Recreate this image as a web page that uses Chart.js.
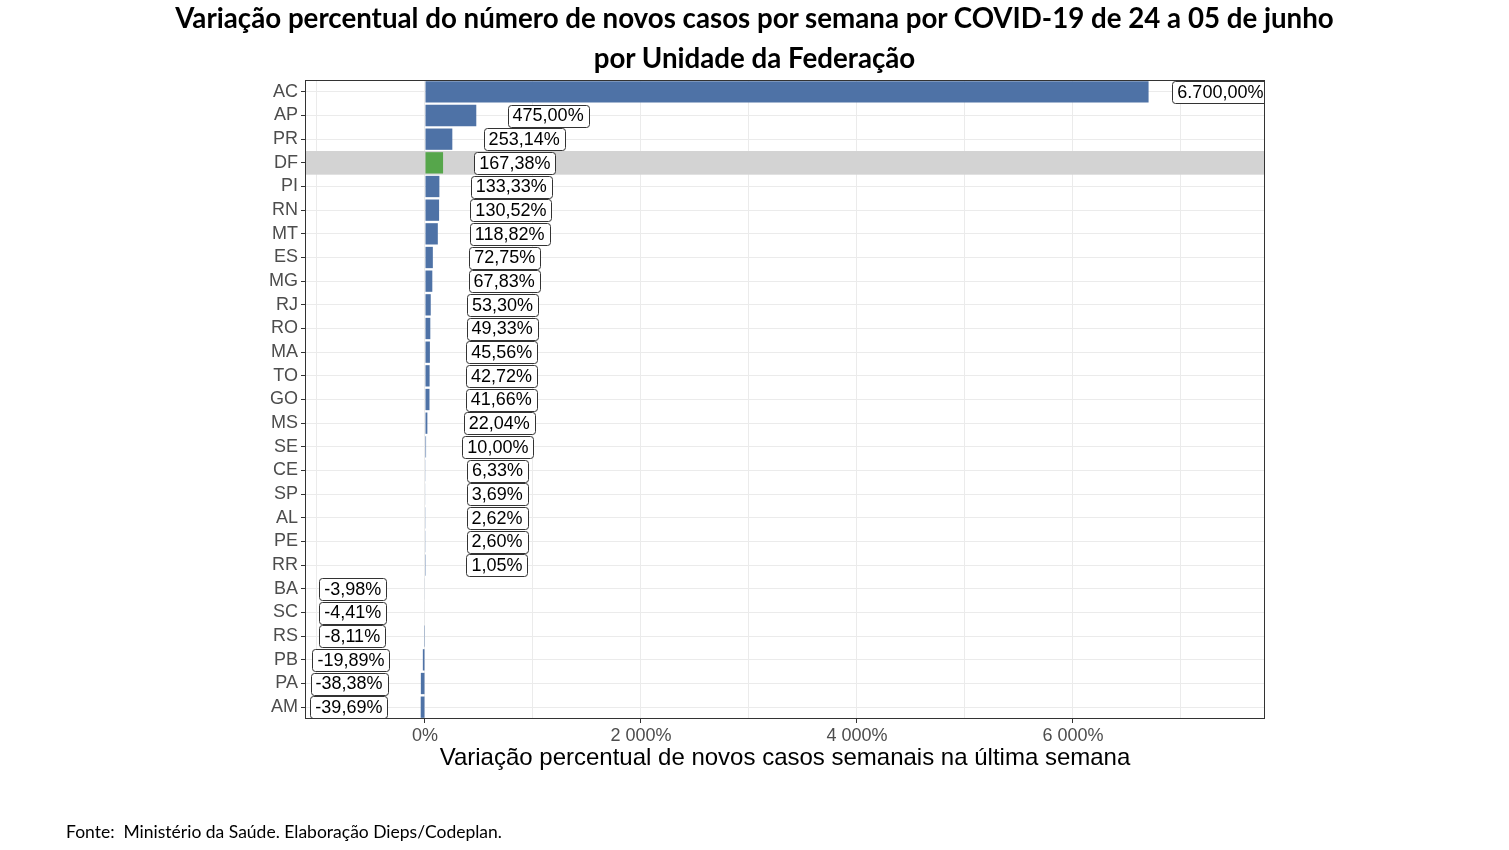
<!DOCTYPE html>
<html lang="pt-BR">
<head>
<meta charset="utf-8">
<title>Variação percentual de novos casos por UF</title>
<script src="https://cdn.jsdelivr.net/npm/chart.js@4.4.1/dist/chart.umd.min.js"></script>
<style>
  html, body { margin: 0; padding: 0; background: #fff; }
  #wrap { position: relative; width: 1509px; height: 850px; }
  #titulo { position: absolute; left: 0; top: -2px; width: 1509px; text-align: center;
    font: bold 27.7px/40px Lato, sans-serif; color: #000; }
  #fonte { position: absolute; left: 66px; top: 821px; font: 17.5px Lato, sans-serif; color: #000; white-space: pre; }
</style>
</head>
<body>
<div id="wrap">
  <canvas id="chart" width="1509" height="850"></canvas>
  <div id="titulo">Variação percentual do número de novos casos por semana por COVID-19 de 24 a 05 de junho<br>por Unidade da Federação</div>
  <div id="fonte">Fonte:  Ministério da Saúde. Elaboração Dieps/Codeplan.</div>
</div>
<script>
// dados (variação % de novos casos semanais)
const ufs = ['AC', 'AP', 'PR', 'DF', 'PI', 'RN', 'MT', 'ES', 'MG', 'RJ', 'RO', 'MA', 'TO', 'GO',
  'MS', 'SE', 'CE', 'SP', 'AL', 'PE', 'RR', 'BA', 'SC', 'RS', 'PB', 'PA', 'AM'];
const variacao = [6700.00, 475.00, 253.14, 167.38, 133.33, 130.52, 118.82, 72.75, 67.83, 53.30, 49.33,
  45.56, 42.72, 41.66, 22.04, 10.00, 6.33, 3.69, 2.62, 2.60, 1.05, -3.98, -4.41, -8.11, -19.89, -38.38, -39.69];
const destaque = 'DF';
const xTicks = [-1000, 0, 1000, 2000, 3000, 4000, 5000, 6000, 7000];
const xTickLabels = ['', '0%', '', '2 000%', '', '4 000%', '', '6 000%', ''];

const AZUL = '#4e72a6';
const VERDE = '#56a64b';
const GRADE = '#ebebeb';
const nudge = 665; // deslocamento dos rótulos, em unidades do eixo x
const fonteEixo = '"Liberation Sans", Arial, sans-serif';

function fmt(v) {
  const [int, dec] = Math.abs(v).toFixed(2).split('.');
  return (v < 0 ? '-' : '') + int.replace(/\B(?=(\d{3})+(?!\d))/g, '.') + ',' + dec + '%';
}

const rotulos = {
  id: 'rotulos',
  beforeDatasetsDraw(chart) {
    const { ctx, chartArea: a, scales: { y } } = chart;
    const h = (a.bottom - a.top) / ufs.length;
    const cy = y.getPixelForValue(ufs.indexOf(destaque));
    ctx.save();
    ctx.fillStyle = '#d3d3d3';
    ctx.fillRect(a.left, cy - h / 2, a.right - a.left, h);
    ctx.restore();
  },
  afterDatasetsDraw(chart) {
    const { ctx, chartArea: a, scales: { x, y } } = chart;
    ctx.save();
    ctx.beginPath();
    ctx.rect(a.left, a.top, a.right - a.left, a.bottom - a.top);
    ctx.clip();
    ctx.font = '18px ' + fonteEixo;
    ctx.textAlign = 'center';
    ctx.textBaseline = 'middle';
    variacao.forEach((v, i) => {
      const txt = fmt(v);
      const cx = x.getPixelForValue(v + Math.sign(v) * nudge);
      const cy = y.getPixelForValue(i);
      const w = ctx.measureText(txt).width + 10, h = 22;
      ctx.beginPath();
      ctx.roundRect(Math.round(cx - w / 2) + 0.5, Math.round(cy - h / 2) + 0.5, Math.round(w), h, 3);
      ctx.fillStyle = '#fff';
      ctx.fill();
      ctx.strokeStyle = '#333';
      ctx.lineWidth = 1;
      ctx.stroke();
      ctx.fillStyle = '#000';
      ctx.fillText(txt, cx, cy + 1);
    });
    ctx.restore();

    // moldura do painel
    ctx.save();
    ctx.strokeStyle = '#333';
    ctx.lineWidth = 1;
    ctx.strokeRect(a.left + 0.5, a.top + 0.5, a.right - a.left - 1, a.bottom - a.top - 1);
    ctx.restore();
  },
};

new Chart(document.getElementById('chart'), {
  type: 'bar',
  data: {
    labels: ufs,
    datasets: [{
      data: variacao,
      backgroundColor: ufs.map(u => (u === destaque ? VERDE : AZUL)),
      borderWidth: 0,
      barPercentage: 0.9,
      categoryPercentage: 1,
    }],
  },
  options: {
    indexAxis: 'y',
    responsive: false,
    animation: false,
    layout: { padding: { left: 244, right: 244, top: 80, bottom: 77 } },
    plugins: {
      legend: { display: false },
      tooltip: { enabled: false },
    },
    scales: {
      x: {
        type: 'linear',
        min: -1111,
        max: 7778,
        afterBuildTicks: s => { s.ticks = xTicks.map(v => ({ value: v })); },
        afterFit: s => { s.height = 54; },
        ticks: {
          autoSkip: false,
          maxRotation: 0,
          padding: 2,
          color: '#4d4d4d',
          font: { family: fonteEixo, size: 18 },
          callback: (v, i) => xTickLabels[i],
        },
        grid: {
          color: GRADE,
          tickLength: 4,
          tickColor: c => (xTickLabels[c.index] ? '#333' : 'rgba(0,0,0,0)'),
        },
        border: { display: false },
        title: {
          display: true,
          text: 'Variação percentual de novos casos semanais na última semana',
          color: '#000',
          font: { family: fonteEixo, size: 24 },
          padding: { top: 0, bottom: 0 },
        },
      },
      y: {
        afterFit: s => { s.width = 61; },
        ticks: {
          autoSkip: false,
          padding: 3,
          color: '#4d4d4d',
          font: { family: fonteEixo, size: 18 },
        },
        grid: { color: GRADE, offset: false, tickLength: 4, tickColor: '#333' },
        border: { display: false },
      },
    },
  },
  plugins: [rotulos],
});
</script>
</body>
</html>
